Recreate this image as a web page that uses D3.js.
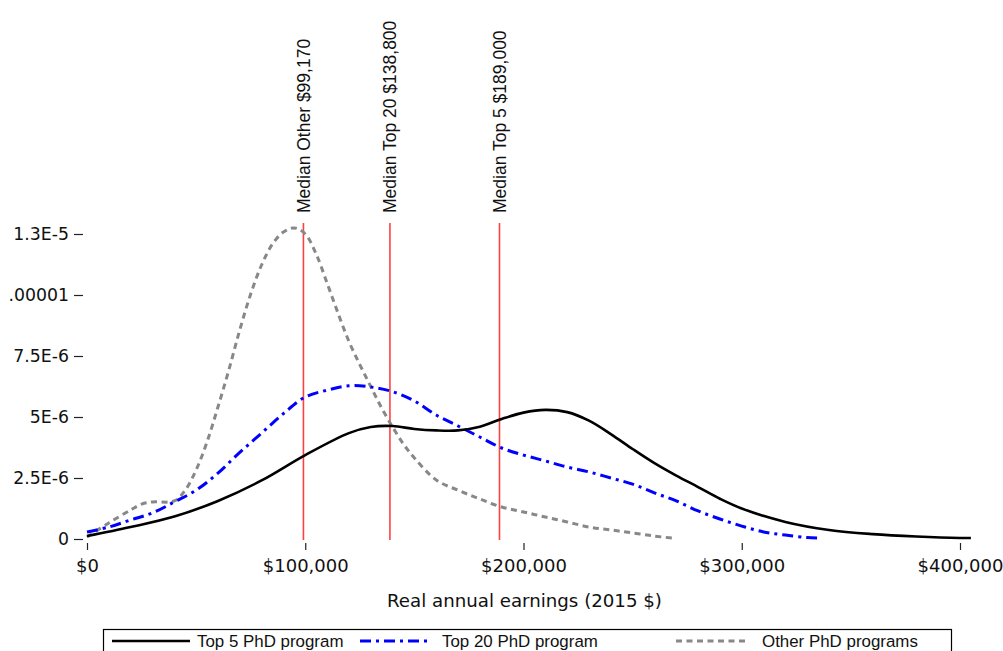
<!DOCTYPE html>
<html>
<head>
<meta charset="utf-8">
<script src="https://cdn.jsdelivr.net/npm/d3@7"></script>
<style>
  body { margin: 0; background: #fff; }
  .tick text { font-family: "DejaVu Sans", Verdana, sans-serif; fill: #111; }
  .tick line { stroke: #222; stroke-width: 1.2; }
</style>
</head>
<body>
<div id="chart"></div>
<script>
// earnings in $ thousands, density in units of 1E-6
var top5X = [0, 20, 40, 60, 80, 100, 120, 130, 140, 150, 160, 170, 180, 190, 200, 210, 220, 230, 240, 250, 260, 270, 280, 290, 300, 320, 340, 360, 380, 400, 405];
var top5Y = [0.12, 0.49, 0.92, 1.56, 2.4, 3.44, 4.34, 4.59, 4.63, 4.51, 4.45, 4.45, 4.6, 4.92, 5.18, 5.29, 5.2, 4.85, 4.3, 3.69, 3.11, 2.6, 2.13, 1.65, 1.25, 0.7, 0.37, 0.2, 0.1, 0.04, 0.04];

var top20X = [0, 10, 20, 30, 40, 50, 60, 70, 80, 90, 100, 110, 120, 130, 140, 150, 160, 170, 180, 190, 200, 210, 220, 230, 240, 250, 260, 270, 280, 290, 300, 310, 320, 330, 335];
var top20Y = [0.29, 0.49, 0.78, 1.07, 1.52, 2.0, 2.7, 3.55, 4.34, 5.14, 5.82, 6.1, 6.28, 6.23, 6.04, 5.66, 5.08, 4.63, 4.18, 3.73, 3.44, 3.2, 2.95, 2.75, 2.5, 2.25, 1.89, 1.56, 1.15, 0.82, 0.53, 0.29, 0.16, 0.06, 0.04];

var otherX = [0, 10, 20, 25, 30, 40, 45, 50, 55, 60, 65, 70, 75, 80, 85, 90, 95, 100, 105, 110, 115, 120, 125, 130, 135, 140, 145, 150, 160, 170, 180, 190, 200, 210, 220, 230, 240, 250, 260, 268];
var otherY = [0.08, 0.66, 1.19, 1.43, 1.52, 1.56, 2.0, 2.83, 3.98, 5.41, 6.93, 8.57, 10.04, 11.23, 12.09, 12.58, 12.75, 12.5, 11.68, 10.49, 9.26, 8.1, 7.15, 6.25, 5.37, 4.59, 3.89, 3.32, 2.42, 2.0, 1.64, 1.31, 1.11, 0.9, 0.7, 0.49, 0.37, 0.25, 0.12, 0.04];

var medianValues = [99170, 138800, 189000];
var medianLabels = ["Median Other $99,170", "Median Top 20 $138,800", "Median Top 5 $189,000"];

var xTicks = [0, 100000, 200000, 300000, 400000];
var xTickLabels = ["$0", "$100,000", "$200,000", "$300,000", "$400,000"];
var yTicks = [0, 2.5e-6, 5e-6, 7.5e-6, 1e-5, 1.25e-5];
var yTickLabels = ["0", "2.5E-6", "5E-6", "7.5E-6", ".00001", "1.3E-5"];

var seriesNames = ["Top 5 PhD program", "Top 20 PhD program", "Other PhD programs"];

//Set sizes
var svgWidth = 1003;
var svgHeight = 651;

var svg = d3.select("#chart")
    .append("svg")
    .attr("width", svgWidth)
    .attr("height", svgHeight);

//create scales
var xScale = d3.scaleLinear()
    .domain([0, 400000])
    .range([87, 960]);

var yScale = d3.scaleLinear()
    .domain([0, 1.25e-5])
    .range([539, 234]);

//axes
var bottomAxis = d3.axisBottom(xScale)
    .tickValues(xTicks)
    .tickSize(7)
    .tickPadding(9)
    .tickFormat((d, i) => xTickLabels[i]);

var leftAxis = d3.axisLeft(yScale)
    .tickValues(yTicks)
    .tickSize(9)
    .tickPadding(5)
    .tickFormat((d, i) => yTickLabels[i]);

svg.append("g")
    .attr("transform", "translate(0, 543)")
    .call(bottomAxis)
    .call(g => g.select(".domain").remove())
    .call(g => g.selectAll(".tick text").attr("font-size", "18px"));

svg.append("g")
    .attr("transform", "translate(83, 0)")
    .call(leftAxis)
    .call(g => g.select(".domain").remove())
    .call(g => g.selectAll(".tick text").attr("font-size", "17.3px"));

//median lines
svg.selectAll(".median")
    .data(medianValues)
    .enter()
    .append("line")
    .attr("class", "median")
    .attr("x1", d => xScale(d))
    .attr("x2", d => xScale(d))
    .attr("y1", 223)
    .attr("y2", 540)
    .attr("stroke", "#ff2020")
    .attr("stroke-opacity", 0.85)
    .attr("stroke-width", 1.6);

svg.selectAll(".medianText")
    .data(medianValues)
    .enter()
    .append("text")
    .attr("class", "medianText")
    .attr("transform", d => `translate(${xScale(d)}, 213) rotate(-90)`)
    .attr("dy", "0.36em")
    .attr("text-anchor", "start")
    .attr("font-family", "Liberation Sans, Arial, sans-serif")
    .attr("font-size", "17.5px")
    .attr("fill", "#111")
    .text((d, i) => medianLabels[i]);

//curves
function makeSeries(xs, ys) {
    return xs.map((x, i) => ({ x: x * 1000, y: ys[i] * 1e-6 }));
}

var series = [
    { name: seriesNames[0], data: makeSeries(top5X, top5Y), color: "#000", width: 2.6, dash: null },
    { name: seriesNames[1], data: makeSeries(top20X, top20Y), color: "#0000ff", width: 3, dash: "11,5,3,5" },
    { name: seriesNames[2], data: makeSeries(otherX, otherY), color: "#888", width: 3, dash: "6,4.5" }
];

var line = d3.line()
    .x(d => xScale(d.x))
    .y(d => yScale(d.y))
    .curve(d3.curveCatmullRom.alpha(0.5));

// draw in reverse so black is on top
svg.selectAll(".curve")
    .data(series.slice().reverse())
    .enter()
    .append("path")
    .attr("class", "curve")
    .attr("d", d => line(d.data))
    .attr("fill", "none")
    .attr("stroke", d => d.color)
    .attr("stroke-width", d => d.width)
    .attr("stroke-dasharray", d => d.dash);

//axis label
svg.append("text")
    .attr("x", (xScale(0) + xScale(400000)) / 2 + 1)
    .attr("y", 607)
    .attr("text-anchor", "middle")
    .attr("font-family", "DejaVu Sans, Verdana, sans-serif")
    .attr("font-size", "18.2px")
    .attr("fill", "#111")
    .text("Real annual earnings (2015 $)");

//legend
var legend = svg.append("g");
legend.append("rect")
    .attr("x", 103.5)
    .attr("y", 629.5)
    .attr("width", 848)
    .attr("height", 40)
    .attr("fill", "#fff")
    .attr("stroke", "#000")
    .attr("stroke-width", 1.2);

var legendPos = [
    { x1: 112, x2: 190, tx: 197 },
    { x1: 360, x2: 430, tx: 442 },
    { x1: 676, x2: 748, tx: 762 }
];

legend.selectAll(".legLine")
    .data(series)
    .enter()
    .append("line")
    .attr("x1", (d, i) => legendPos[i].x1)
    .attr("x2", (d, i) => legendPos[i].x2)
    .attr("y1", 641)
    .attr("y2", 641)
    .attr("stroke", d => d.color)
    .attr("stroke-width", d => d.width)
    .attr("stroke-dasharray", d => d.dash);

legend.selectAll(".legText")
    .data(series)
    .enter()
    .append("text")
    .attr("x", (d, i) => legendPos[i].tx)
    .attr("y", 647)
    .attr("font-family", "Liberation Sans, Arial, sans-serif")
    .attr("font-size", "16.9px")
    .attr("fill", "#111")
    .text(d => d.name);
</script>
</body>
</html>
